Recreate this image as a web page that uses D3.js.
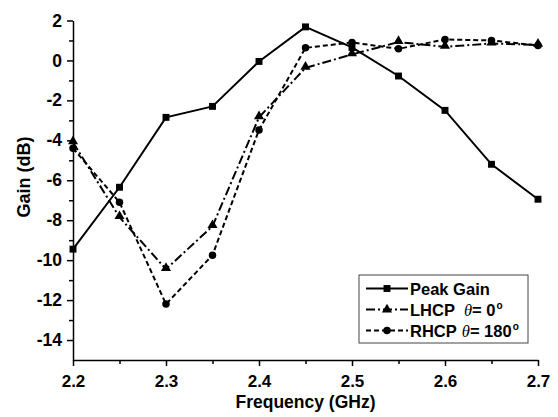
<!DOCTYPE html>
<html>
<head>
<meta charset="utf-8">
<script src="https://cdn.jsdelivr.net/npm/d3@7"></script>
<style>
body { margin: 0; background: #fff; }
text { font-family: "Liberation Sans", Arial, sans-serif; font-weight: bold; fill: #000; }
</style>
</head>
<body>
<div id="chart"></div>
<script>
var svgWidth = 558;
var svgHeight = 417;

var freq = [2.2, 2.25, 2.3, 2.35, 2.4, 2.45, 2.5, 2.55, 2.6, 2.65, 2.7];
var peakGain = [-9.45, -6.35, -2.85, -2.3, -0.05, 1.68, 0.65, -0.78, -2.5, -5.2, -6.95];
var lhcp = [-4.1, -7.85, -10.45, -8.3, -2.85, -0.37, 0.3, 0.92, 0.68, 0.85, 0.78];
var rhcp = [-4.4, -7.1, -12.2, -9.75, -3.48, 0.63, 0.9, 0.58, 1.05, 1.0, 0.75];
var xTicks = [2.2, 2.3, 2.4, 2.5, 2.6, 2.7];
var yTicks = [2, 0, -2, -4, -6, -8, -10, -12, -14];

var margin = { top: 20.5, right: 20, bottom: 57, left: 73 };
var width = 538 - margin.left;
var height = 360 - margin.top;

var svg = d3.select("#chart")
    .append("svg")
    .attr("width", svgWidth)
    .attr("height", svgHeight);

var chartGroup = svg.append("g")
    .attr("transform", `translate(${margin.left}, ${margin.top})`);

var x = d3.scaleLinear().domain([2.2, 2.7]).range([0, width]);
var y = d3.scaleLinear().domain([-15, 2]).range([height, 0]);

// minor ticks
var xMinor = d3.range(2.25, 2.7, 0.1);
var yMinor = d3.range(1, -15, -2);

chartGroup.append("g")
    .attr("transform", `translate(0, ${height})`)
    .call(d3.axisBottom(x).tickValues(xMinor).tickSize(4).tickFormat(""))
    .call(g => g.select(".domain").remove())
    .selectAll("line").attr("stroke-width", 1.5);

chartGroup.append("g")
    .call(d3.axisLeft(y).tickValues(yMinor).tickSize(4).tickFormat(""))
    .call(g => g.select(".domain").remove())
    .selectAll("line").attr("stroke-width", 1.5);

var xAxis = chartGroup.append("g")
    .attr("transform", `translate(0, ${height})`)
    .call(d3.axisBottom(x).tickValues(xTicks).tickSize(6).tickSizeOuter(0).tickPadding(9).tickFormat(d3.format(".1f")));
xAxis.selectAll("text").style("font-size", "17px");

var yAxis = chartGroup.append("g")
    .call(d3.axisLeft(y).tickValues(yTicks).tickSize(6).tickSizeOuter(0).tickPadding(5).tickFormat(d => d < 0 ? "-" + Math.abs(d) : d));
yAxis.selectAll("text").style("font-size", "17.5px");

[xAxis, yAxis].forEach(function(a) {
    a.select(".domain").attr("stroke-width", 1.5);
    a.selectAll(".tick line").attr("stroke-width", 1.5);
});

function series(vals) {
    return freq.map((f, i) => ({ f: f, v: vals[i] }));
}

var line = d3.line().x(d => x(d.f)).y(d => y(d.v));

var peakData = series(peakGain);
var lhcpData = series(lhcp);
var rhcpData = series(rhcp);

chartGroup.append("path").datum(rhcpData)
    .attr("d", line).attr("fill", "none").attr("stroke", "#000")
    .attr("stroke-width", 2).attr("stroke-dasharray", "5,3");

chartGroup.append("path").datum(lhcpData)
    .attr("d", line).attr("fill", "none").attr("stroke", "#000")
    .attr("stroke-width", 2).attr("stroke-dasharray", "9,3,2,3");

chartGroup.append("path").datum(peakData)
    .attr("d", line).attr("fill", "none").attr("stroke", "#000")
    .attr("stroke-width", 2);

var sq = d3.symbol().type(d3.symbolSquare).size(48);
var tri = d3.symbol().type(d3.symbolTriangle).size(44);
var cir = d3.symbol().type(d3.symbolCircle).size(44);

chartGroup.selectAll(".sq").data(peakData).enter()
    .append("path").attr("class", "sq")
    .attr("d", sq)
    .attr("transform", d => `translate(${x(d.f)}, ${y(d.v)})`);

chartGroup.selectAll(".tri").data(lhcpData).enter()
    .append("path").attr("class", "tri")
    .attr("d", tri)
    .attr("transform", d => `translate(${x(d.f)}, ${y(d.v) - 1})`);

chartGroup.selectAll(".cir").data(rhcpData).enter()
    .append("path").attr("class", "cir")
    .attr("d", cir)
    .attr("transform", d => `translate(${x(d.f)}, ${y(d.v)})`);

// legend
var legend = svg.append("g").attr("transform", "translate(359, 275)");
legend.append("rect")
    .attr("width", 169).attr("height", 68)
    .attr("fill", "#fff").attr("stroke", "#444").attr("stroke-width", 1);

var legendItems = [
    { label: "Peak Gain", dash: null, sym: sq },
    { label: "LHCP", theta: "0", dash: "9,3,2,3", sym: tri },
    { label: "RHCP", theta: "180", dash: "5,3", sym: cir }
];

legendItems.forEach(function(item, i) {
    var ly = 13.5 + i * 21;
    legend.append("line")
        .attr("x1", 7).attr("x2", 49).attr("y1", ly).attr("y2", ly)
        .attr("stroke", "#000").attr("stroke-width", 2)
        .attr("stroke-dasharray", item.dash);
    legend.append("path").attr("d", item.sym)
        .attr("transform", `translate(28, ${ly})`);
    var t = legend.append("text")
        .attr("x", 51).attr("y", ly + 6)
        .style("font-size", "16.5px");
    t.append("tspan").text(item.label);
    if (item.theta) {
        t.append("tspan").attr("dx", item.theta === "0" ? 9 : 5)
            .style("font-family", "'Liberation Serif', serif")
            .style("font-style", "italic").style("font-weight", "normal")
            .text("\u03b8");
        t.append("tspan").text("= " + item.theta);
        t.append("tspan").attr("dy", -7).attr("dx", 1).style("font-size", "10px").text("o");
    }
});

chartGroup.append("text")
    .attr("transform", "rotate(-90)")
    .attr("x", -156.5)
    .attr("y", -43)
    .attr("text-anchor", "middle")
    .style("font-size", "18px")
    .text("Gain (dB)");

chartGroup.append("text")
    .attr("x", width / 2)
    .attr("y", height + 48)
    .attr("text-anchor", "middle")
    .style("font-size", "17.5px")
    .text("Frequency (GHz)");
</script>
</body>
</html>
